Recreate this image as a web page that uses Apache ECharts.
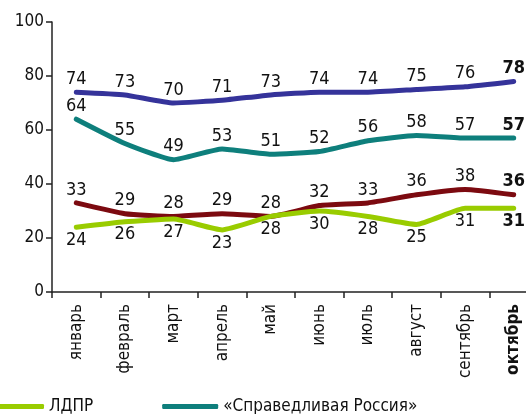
<!DOCTYPE html>
<html>
<head>
<meta charset="utf-8">
<script src="https://cdn.jsdelivr.net/npm/echarts@6/dist/echarts.min.js"></script>
<style>
  html, body { margin: 0; padding: 0; background: #fff; overflow: hidden; }
  #chart { width: 540px; height: 414px; }
</style>
</head>
<body>
<div id="chart"></div>
<script>
// 数据
const months = ['январь', 'февраль', 'март', 'апрель', 'май', 'июнь', 'июль', 'август', 'сентябрь', 'октябрь'];
const edinayaRossiya = [74, 73, 70, 71, 73, 74, 74, 75, 76, 78];
const spravedlivayaRossiya = [64, 55, 49, 53, 51, 52, 56, 58, 57, 57];
const kprf = [33, 29, 28, 29, 28, 32, 33, 36, 38, 36];
const ldpr = [24, 26, 27, 23, 28, 30, 28, 25, 31, 31];

const font = 'DejaVu Sans Condensed';
const lastIdx = months.length - 1;

// last point label is bold
function makeLine(name, data, color, pos) {
  return {
    type: 'line',
    name: name,
    data: data,
    symbol: 'circle',
    symbolSize: 0,
    showSymbol: true,
    smooth: 0.15,
    lineStyle: { color: color, width: 5, cap: 'round', join: 'round' },
    itemStyle: { color: color },
    label: {
      show: true,
      position: pos,
      distance: 4,
      color: '#111',
      fontFamily: font,
      fontSize: 18,
      formatter: function (p) {
        return p.dataIndex === lastIdx ? '{b|' + p.value + '}' : p.value;
      },
      rich: {
        b: { fontWeight: 'bold', fontFamily: font, fontSize: 18, color: '#111' }
      }
    },
    labelLayout: { hideOverlap: false }
  };
}

const chart = echarts.init(document.getElementById('chart'));
const option = {
  animation: false,
  textStyle: { fontFamily: font },
  grid: { left: 52, top: 22, width: 486, height: 270 },
  legend: {
    data: ['ЛДПР', '«Справедливая Россия»'],
    left: -17,
    top: 393,
    icon: 'roundRect',
    itemWidth: 56,
    itemHeight: 5,
    itemGap: 69,
    textStyle: { fontFamily: font, fontSize: 17, color: '#111' }
  },
  xAxis: {
    type: 'category',
    data: months,
    boundaryGap: true,
    axisLine: { lineStyle: { color: '#222', width: 1.5 } },
    axisTick: { show: true, length: 6, lineStyle: { color: '#222', width: 1.5 } },
    axisLabel: {
      rotate: 90,
      margin: 12,
      color: '#111',
      fontFamily: font,
      fontSize: 17,
      interval: 0,
      formatter: function (v) {
        return v === 'октябрь' ? '{b|' + v + '}' : v;
      },
      rich: { b: { fontWeight: 'bold', fontFamily: font, fontSize: 17, color: '#111' } }
    }
  },
  yAxis: {
    type: 'value',
    min: 0,
    max: 100,
    interval: 20,
    axisLine: { show: true, lineStyle: { color: '#222', width: 1.5 } },
    axisTick: { show: true, length: 6, lineStyle: { color: '#222', width: 1.5 } },
    splitLine: { show: false },
    axisLabel: { color: '#111', fontFamily: font, fontSize: 17, margin: 8 }
  },
  series: [
    makeLine('«Единая Россия»', edinayaRossiya, '#35339a', 'top'),
    makeLine('«Справедливая Россия»', spravedlivayaRossiya, '#0e7f7c', 'top'),
    makeLine('КПРФ', kprf, '#7c0a10', 'top'),
    makeLine('ЛДПР', ldpr, '#99cc00', 'bottom')
  ]
};
chart.setOption(option);
</script>
</body>
</html>
